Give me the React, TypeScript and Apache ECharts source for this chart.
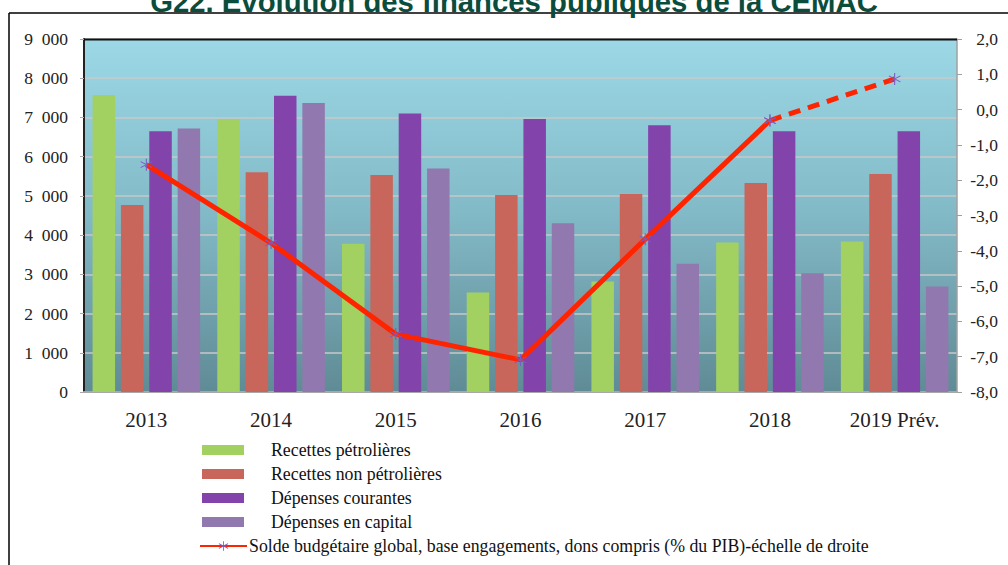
import React, { useEffect, useRef } from "react";
import * as echarts from "echarts";

const categories = ["2013", "2014", "2015", "2016", "2017", "2018", "2019 Prév."];
const recettesPetrolieres = [7570, 6960, 3780, 2540, 2820, 3810, 3840];
const recettesNonPetrolieres = [4770, 5600, 5530, 5020, 5050, 5330, 5560];
const depensesCourantes = [6650, 7550, 7100, 6960, 6800, 6650, 6650];
const depensesCapital = [6720, 7370, 5700, 4300, 3270, 3030, 2690];
const soldeBudgetaire = [-1.56, -3.78, -6.36, -7.09, -3.67, -0.31, 0.87];
const leftTicks = { min: 0, max: 9000, interval: 1000 };
const rightTicks = { min: -8, max: 2, interval: 1 };

const TITLE = "G22. Évolution des finances publiques de la CEMAC";
const NAMES = [
  "Recettes pétrolières",
  "Recettes non pétrolières",
  "Dépenses courantes",
  "Dépenses en capital",
  "Solde budgétaire global, base engagements, dons compris (% du PIB)-échelle de droite",
];

const STAR =
  "path://M-0.8,-10 L0.8,-10 L0.8,10 L-0.8,10 Z M-9.06,-4.31 L8.26,5.69 L9.06,4.31 L-8.26,-5.69 Z M-8.26,5.69 L9.06,-4.31 L8.26,-5.69 L-9.06,4.31 Z";

export default function App() {
  const ref = useRef<HTMLDivElement>(null);
  useEffect(() => {
    if (!ref.current) return;
    const chart = echarts.init(ref.current, undefined, { renderer: "svg" });
    const serif = "Liberation Serif";
    const n = soldeBudgetaire.length;
    const solid = soldeBudgetaire.map((v, i) => (i <= n - 2 ? v : null));
    const dashed = soldeBudgetaire.map((v, i) => (i >= n - 2 ? v : null));
    const barCommon = { type: "bar", barWidth: 22.5, barGap: "26%", z: 2 };
    const legendText = { fontFamily: serif, fontSize: 17.8, color: "#111", lineHeight: 17 };
    const tickRich = { t: { fontFamily: serif, fontSize: 17.5, color: "#222" } };
    chart.setOption({
      animation: false,
      backgroundColor: "#ffffff",
      textStyle: { fontFamily: serif, fontSize: 17.5, color: "#222" },
      grid: {
        left: 84,
        right: 51,
        top: 39,
        bottom: 173,
        show: true,
        borderWidth: 0,
        backgroundColor: new echarts.graphic.LinearGradient(0, 0, 0, 1, [
          { offset: 0, color: "#9CD8E6" },
          { offset: 0.5, color: "#82B9C6" },
          { offset: 1, color: "#5F8B95" },
        ]),
      },
      graphic: [
        {
          type: "text",
          x: 514,
          y: -13,
          style: {
            text: TITLE,
            align: "center",
            font: "bold 29.3px 'Liberation Sans', Arial, sans-serif",
            fill: "#0B4D3D",
          },
          z: 10,
        },
        { type: "line", shape: { x1: 9, y1: 13, x2: 1008, y2: 13 }, style: { stroke: "#000", lineWidth: 1.5 } },
        { type: "line", shape: { x1: 9, y1: 13, x2: 9, y2: 565 }, style: { stroke: "#000", lineWidth: 1.5 } },
        { type: "line", shape: { x1: 84, y1: 39.5, x2: 957, y2: 39.5 }, style: { stroke: "#111", lineWidth: 2 }, z: 5 },
      ],
      legend: [
        {
          orient: "vertical",
          left: 202,
          top: 441,
          padding: 0,
          icon: "rect",
          itemWidth: 42,
          itemHeight: 10,
          itemGap: 6,
          data: NAMES.slice(0, 4),
          textStyle: { ...legendText, padding: [0, 0, 0, 22] },
        },
        {
          orient: "vertical",
          left: 199,
          top: 537,
          padding: 0,
          itemWidth: 47,
          itemHeight: 12,
          data: [NAMES[4]],
          textStyle: { ...legendText, padding: [0, 0, 0, -3] },
        },
      ],
      xAxis: {
        type: "category",
        data: categories,
        axisLine: { show: true, lineStyle: { color: "#A8A8A8", width: 2 } },
        axisTick: { show: false },
        axisLabel: { fontFamily: serif, fontSize: 21, color: "#222", margin: 17 },
      },
      yAxis: [
        {
          type: "value",
          ...leftTicks,
          position: "left",
          axisLine: { show: true, lineStyle: { color: "#222", width: 2 } },
          axisTick: { show: true, length: 4, lineStyle: { color: "#AAA" } },
          splitLine: { show: true, lineStyle: { color: "#C9C9C9", width: 1.5 } },
          axisLabel: {
            fontFamily: serif,
            fontSize: 17.5,
            color: "#222",
            margin: 16,
            rich: tickRich,
            formatter: (v: number) =>
              "{t|" + String(v).replace(/\B(?=(\d{3})+(?!\d))/g, "\u00A0\u00A0") + "}",
          },
        },
        {
          type: "value",
          ...rightTicks,
          position: "right",
          axisLine: { show: true, lineStyle: { color: "#A0A0A0", width: 1.5 } },
          axisTick: { show: true, length: 5, lineStyle: { color: "#A0A0A0" } },
          splitLine: { show: false },
          axisLabel: {
            fontFamily: serif,
            fontSize: 17.5,
            color: "#222",
            margin: 41,
            align: "right",
            rich: tickRich,
            formatter: (v: number) => "{t|" + v.toFixed(1).replace(".", ",") + "}",
          },
        },
      ],
      series: [
        { ...barCommon, name: NAMES[0], data: recettesPetrolieres, itemStyle: { color: "#A2D162" } },
        { ...barCommon, name: NAMES[1], data: recettesNonPetrolieres, itemStyle: { color: "#C8665C" } },
        { ...barCommon, name: NAMES[2], data: depensesCourantes, itemStyle: { color: "#8243AB" } },
        { ...barCommon, name: NAMES[3], data: depensesCapital, itemStyle: { color: "#9179B0" } },
        {
          type: "line",
          name: NAMES[4],
          yAxisIndex: 1,
          data: solid,
          z: 6,
          symbol: STAR,
          symbolSize: 12,
          itemStyle: { color: "#7B5BC9" },
          lineStyle: { color: "#FF2400", width: 5 },
        },
        {
          type: "line",
          name: "dashed",
          yAxisIndex: 1,
          data: dashed,
          z: 6,
          symbol: STAR,
          symbolSize: 12,
          itemStyle: { color: "#7B5BC9" },
          lineStyle: { color: "#FF2400", width: 5, type: [12, 8] },
        },
      ],
    });
    return () => chart.dispose();
  }, []);
  return <div ref={ref} style={{ position: "absolute", left: 0, top: 0, width: 1008, height: 565 }} />;
}
